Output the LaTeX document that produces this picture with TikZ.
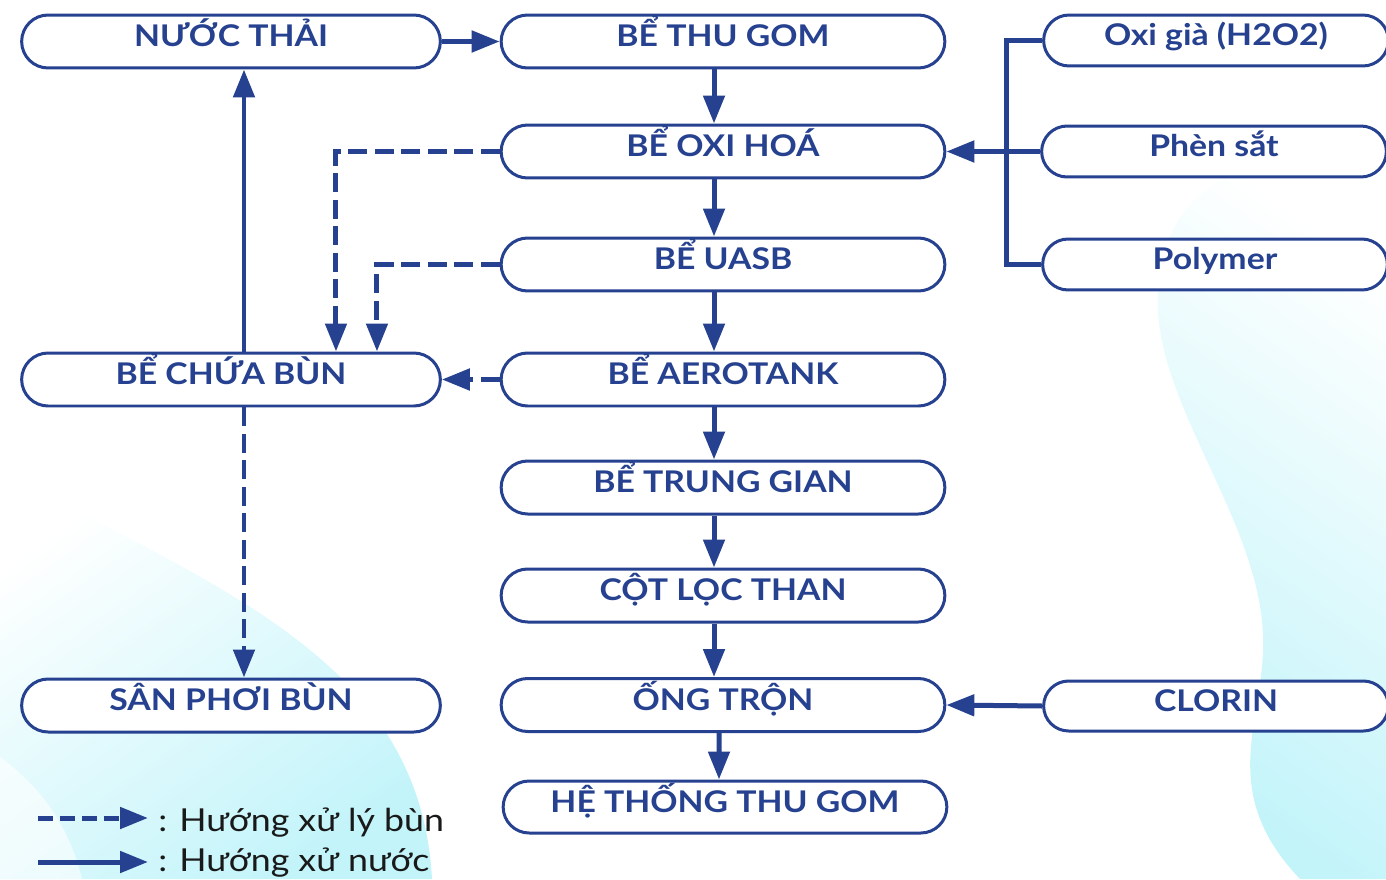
\documentclass[tikz,border=0pt]{standalone}
\usepackage{fontspec}
\setmainfont{Lato}[FakeStretch=1.13]
\usetikzlibrary{arrows.meta,shapes.misc}
\definecolor{xanh}{HTML}{25418F}
\definecolor{nen}{HTML}{C2F4FA}

\begin{document}
\begin{tikzpicture}[x=0.02cm, y=-0.02cm,
    hop/.style={draw=xanh, line width=0.06cm, rounded rectangle, fill=white,
      minimum width=9.11cm, minimum height=1.06cm, text=xanh,
      font=\fontsize{17}{20}\selectfont\bfseries, text height=0.3cm, text depth=0.1cm},
    hoptrai/.style={hop, minimum width=8.61cm},
    hopphai/.style={hop, minimum width=7.13cm, minimum height=1.02cm},
    dong/.style={draw=xanh, line width=0.1cm, -{Triangle[length=0.56cm, width=0.42cm]}},
    tuyen/.style={draw=xanh, line width=0.1cm},
    bun/.style={dong, dash pattern=on 0.38cm off 0.15cm},
    chu/.style={text=black!90, font=\fontsize{18}{21}\selectfont, inner sep=0pt}]
    \useasboundingbox (0,0) rectangle (1386,879);
    \clip (0,0) rectangle (1386,879);
    % nen
    \shade[top color=white, bottom color=nen, shading angle=-35]
      (1386,150) .. controls (1260,150) and (1165,175) .. (1158,290)
      .. controls (1150,400) and (1262,520) .. (1263,640)
      .. controls (1265,720) and (1215,790) .. (1300,879) -- (1386,879) -- cycle;
    \shade[top color=white, bottom color=nen, shading angle=35]
      (0,470) .. controls (220,590) and (420,660) .. (432,879) -- (0,879) -- cycle;
    \fill[white, opacity=0.6] (0,757) .. controls (45,790) and (70,830) .. (82,879) -- (0,879) -- cycle;
    % cac be
    \node[hoptrai] (a) at (231,41.5) {NƯỚC THẢI};
    \node[hop] (b) at (723,41.5) {BỂ THU GOM};
    \node[hop] (c) at (723,151.5) {BỂ OXI HOÁ};
    \node[hop] (d) at (723,264.5) {BỂ UASB};
    \node[hop] (e) at (723,379.5) {BỂ AEROTANK};
    \node[hop] (f) at (723,487.5) {BỂ TRUNG GIAN};
    \node[hop] (g) at (723,595.5) {CỘT LỌC THAN};
    \node[hop] (h) at (723,705) {ỐNG TRỘN};
    \node[hop, minimum height=1.04cm] (i) at (725,807) {HỆ THỐNG THU GOM};
    \node[hoptrai] (k) at (231,379.5) {BỂ CHỨA BÙN};
    \node[hoptrai] (l) at (231,705.5) {SÂN PHƠI BÙN};
    \node[hopphai] (p) at (1216,40.5) {Oxi già (H2O2)};
    \node[hopphai] (q) at (1214,151.5) {Phèn sắt};
    \node[hopphai] (r) at (1215,264.5) {Polymer};
    \node[hopphai, minimum height=1cm] (s) at (1216,706) {CLORIN};
    \coordinate (j) at (1006,151.5);
    % huong nuoc
    \draw[dong] (a.east) -- (b.west);
    \draw[dong] ([xshift=-.18cm]b.south) -- ([xshift=-.18cm]c.north);
    \draw[dong] ([xshift=-.18cm]c.south) -- ([xshift=-.18cm]d.north);
    \draw[dong] ([xshift=-.18cm]d.south) -- ([xshift=-.18cm]e.north);
    \draw[dong] ([xshift=-.18cm]e.south) -- ([xshift=-.18cm]f.north);
    \draw[dong] ([xshift=-.18cm]f.south) -- ([xshift=-.18cm]g.north);
    \draw[dong] ([xshift=-.18cm]g.south) -- ([xshift=-.18cm]h.north);
    \draw[dong] ([xshift=-.08cm]h.south) -- ([xshift=-.12cm]i.north);
    \draw[tuyen] (p.west) -| (j) |- (r.west);
    \draw[dong] (q.west) -- (c.east);
    \draw[dong] (s.west) -- (h.east);
    \draw[dong] ([xshift=.26cm]k.north) -- ([xshift=.26cm]a.south);
    % huong bun
    \draw[bun] (c.west) -| ([xshift=2.1cm]k.north);
    \draw[bun] (d.west) -| ([xshift=2.92cm]k.north);
    \draw[bun] (e.west) -- (k.east);
    \draw[bun] ([xshift=.26cm]k.south) -- ([xshift=.26cm]l.north);
    % chu thich
    \coordinate (m1) at (38,818);
    \coordinate (m2) at (148,818);
    \coordinate (m3) at (38,862);
    \coordinate (m4) at (148,862);
    \draw[bun, dash pattern=on 0.3cm off 0.14cm] (m1) -- (m2);
    \draw[dong] (m3) -- (m4);
    \node[chu, anchor=base west] (n1) at (158,831) {: Hướng xử lý bùn};
    \node[chu, anchor=base west] (n2) at (158,871) {: Hướng xử nước};
\end{tikzpicture}
\end{document}
